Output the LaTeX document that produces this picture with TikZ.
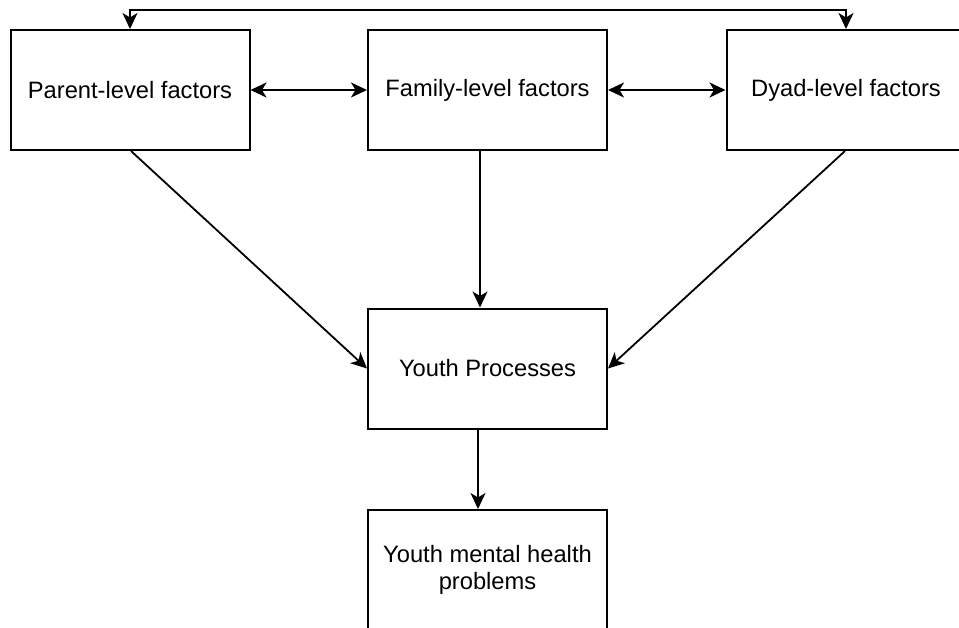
\documentclass[tikz,border=0pt]{standalone}
\usepackage{fontspec}
\setmainfont{Liberation Sans}
\usetikzlibrary{arrows.meta}
\begin{document}
\begin{tikzpicture}[x=1pt,y=-1pt,
  box/.style={draw=black,line width=2pt,minimum width=239pt,minimum height=120pt,
    inner sep=0pt,align=center,font=\fontsize{23.7}{26.5}\selectfont},
  link/.style={line width=1.8pt,-{Stealth[length=16pt,width=15pt,inset=4.5pt]}},
  biglink/.style={line width=1.8pt,{Stealth[length=16pt,width=15pt,inset=4.5pt]}-{Stealth[length=16pt,width=15pt,inset=4.5pt]}}]
\useasboundingbox (0,0) rectangle (959,627);
\clip (0,0) rectangle (959,627);
% top row of factor boxes
\node[box] (par) at (130,90) {Parent-level factors};
\node[box] (fam) at (487.5,90) {Family-level factors};
\node[box] (dy) at (846,90) {Dyad-level factors};
% middle and outcome boxes
\node[box] (yp) at (487.5,368.5) {Youth Processes};
\node[box] (ymh) at (487.5,570) {Youth mental health\\problems};
% two-way links between the factor levels
\draw[biglink] (par.east) -- (fam.west);
\draw[biglink] (fam.east) -- (dy.west);
\draw[biglink] (par.north) -- ++(0,-19) -| (dy.north);
% influences on youth processes
\draw[link] ([xshift=1pt]par.south) -- (yp.west);
\draw[link] ([xshift=-1pt]dy.south) -- (yp.east);
\draw[link] ([xshift=-7.5pt]fam.south) -- ([xshift=-7.5pt]yp.north);
\draw[link] ([xshift=-9.5pt]yp.south) -- ([xshift=-9.5pt]ymh.north);
\end{tikzpicture}
\end{document}
